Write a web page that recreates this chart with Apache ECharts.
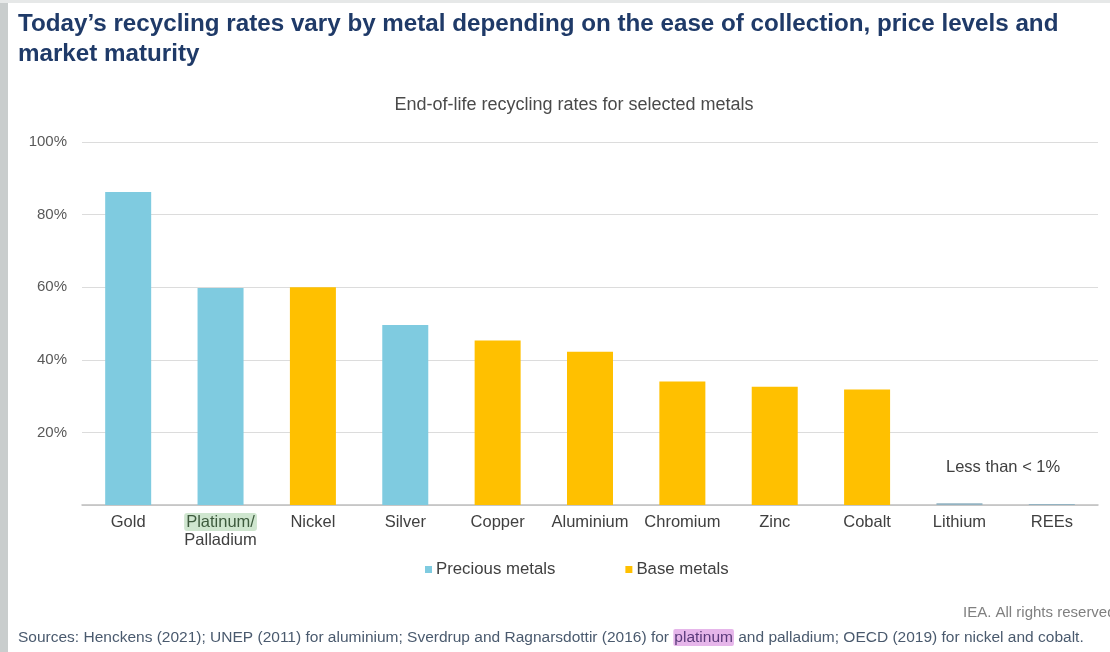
<!DOCTYPE html>
<html>
<head>
<meta charset="utf-8">
<script src="https://cdn.jsdelivr.net/npm/echarts@6/dist/echarts.min.js"></script>
<style>
  html, body { margin: 0; padding: 0; background: #ffffff; }
  #chart { width: 1110px; height: 652px; }
</style>
</head>
<body>
<div id="chart"></div>
<script>
// End-of-life recycling rates (%) by metal
const categories = ['Gold', 'Platinum/\nPalladium', 'Nickel', 'Silver', 'Copper', 'Aluminium', 'Chromium', 'Zinc', 'Cobalt', 'Lithium', 'REEs'];
const preciousMetals = [86.2, 59.8, null, 49.6, null, null, null, null, null, null, null];
const baseMetals = [null, null, 60, null, 45.3, 42.2, 34, 32.6, 31.8, null, null];
const belowOnePercent = [null, null, null, null, null, null, null, null, null, 0.5, 0.3];
const yTicks = [0, 20, 40, 60, 80, 100];

const chart = echarts.init(document.getElementById('chart'));
const FONT = '"Liberation Sans", Arial, sans-serif';

chart.setOption({
  backgroundColor: '#ffffff',
  animation: false,
  textStyle: { fontFamily: FONT },
  title: [
    {
      text: 'Today\u2019s recycling rates vary by metal depending on the ease of collection, price levels and\nmarket maturity',
      left: 13, top: 4,
      textStyle: { fontFamily: FONT, fontSize: 24.2, fontWeight: 'bold', color: '#1f3a68', lineHeight: 30 }
    },
    {
      text: 'End-of-life recycling rates for selected metals',
      left: 569, top: 91, textAlign: 'center',
      textStyle: { fontFamily: FONT, fontSize: 18, fontWeight: 'normal', color: '#4a4a4a' }
    }
  ],
  legend: {
    data: ['Precious metals', 'Base metals'],
    top: 556, left: 420,
    itemWidth: 7, itemHeight: 7, itemGap: 70,
    icon: 'rect',
    textStyle: { fontFamily: FONT, fontSize: 16.8, color: '#404040', padding: [0, 0, 0, -1] }
  },
  grid: { left: 82, right: 12, top: 142, bottom: 147, containLabel: false },
  xAxis: {
    type: 'category',
    data: categories,
    axisTick: { show: false },
    axisLine: { lineStyle: { color: '#bfbfbf', width: 1.5 } },
    axisLabel: {
      fontFamily: FONT, fontSize: 16.5, color: '#404040', margin: 8, lineHeight: 18,
      interval: 0,
      formatter: function (v) {
        if (v.indexOf('\n') >= 0) {
          const parts = v.split('\n');
          return '{hl|' + parts[0] + '}\n' + parts[1];
        }
        return v;
      },
      rich: {
        hl: { backgroundColor: '#cfe6cf', borderRadius: 3, color: '#3d5a3d', fontSize: 16.5, fontFamily: FONT, padding: [1, 2, 0, 2] }
      }
    }
  },
  yAxis: {
    type: 'value',
    min: yTicks[0], max: yTicks[yTicks.length - 1], interval: 20,
    axisLine: { show: false },
    axisTick: { show: false },
    splitLine: { lineStyle: { color: '#dcdcdc', width: 1 } },
    axisLabel: {
      fontFamily: FONT, fontSize: 15, color: '#595959', margin: 15,
      formatter: function (v) { return v === 0 ? '' : v + '%'; }
    }
  },
  series: [
    {
      name: 'Precious metals', type: 'bar', stack: 'all', barWidth: 46,
      itemStyle: { color: '#7fcbe0' }, data: preciousMetals
    },
    {
      name: 'Base metals', type: 'bar', stack: 'all', barWidth: 46,
      itemStyle: { color: '#ffc000' }, data: baseMetals
    },
    {
      name: 'Less than 1%', type: 'bar', stack: 'all', barWidth: 46,
      itemStyle: { color: '#93b3c2' }, data: belowOnePercent
    }
  ],
  graphic: [
    { type: 'rect', left: 0, top: 0, shape: { width: 8, height: 652 }, style: { fill: '#c9cdcd' }, z: 100 },
    { type: 'rect', left: 0, top: 0, shape: { width: 1110, height: 3 }, style: { fill: '#e6e8e8' }, z: 100 },
    {
      type: 'text', left: 946, top: 459,
      style: { text: 'Less than < 1%', font: '16.5px ' + FONT, fill: '#404040' }
    },
    {
      type: 'text', left: 963, top: 605,
      style: { text: 'IEA. All rights reserved', font: '15px ' + FONT, fill: '#808080' }
    },
    {
      type: 'text', left: 18, top: 629,
      style: {
        text: 'Sources: Henckens (2021); UNEP (2011) for aluminium; Sverdrup and Ragnarsdottir (2016) for {pk|platinum} and palladium; OECD (2019) for nickel and cobalt.',
        font: '15.5px ' + FONT, fill: '#4a5a6e',
        rich: { pk: { backgroundColor: '#e6b6ea', fontSize: 15.5, fontFamily: FONT, fill: '#5a3a7a', padding: [1, 1, 0, 1], borderRadius: 2 } }
      }
    }
  ]
});
</script>
</body>
</html>
